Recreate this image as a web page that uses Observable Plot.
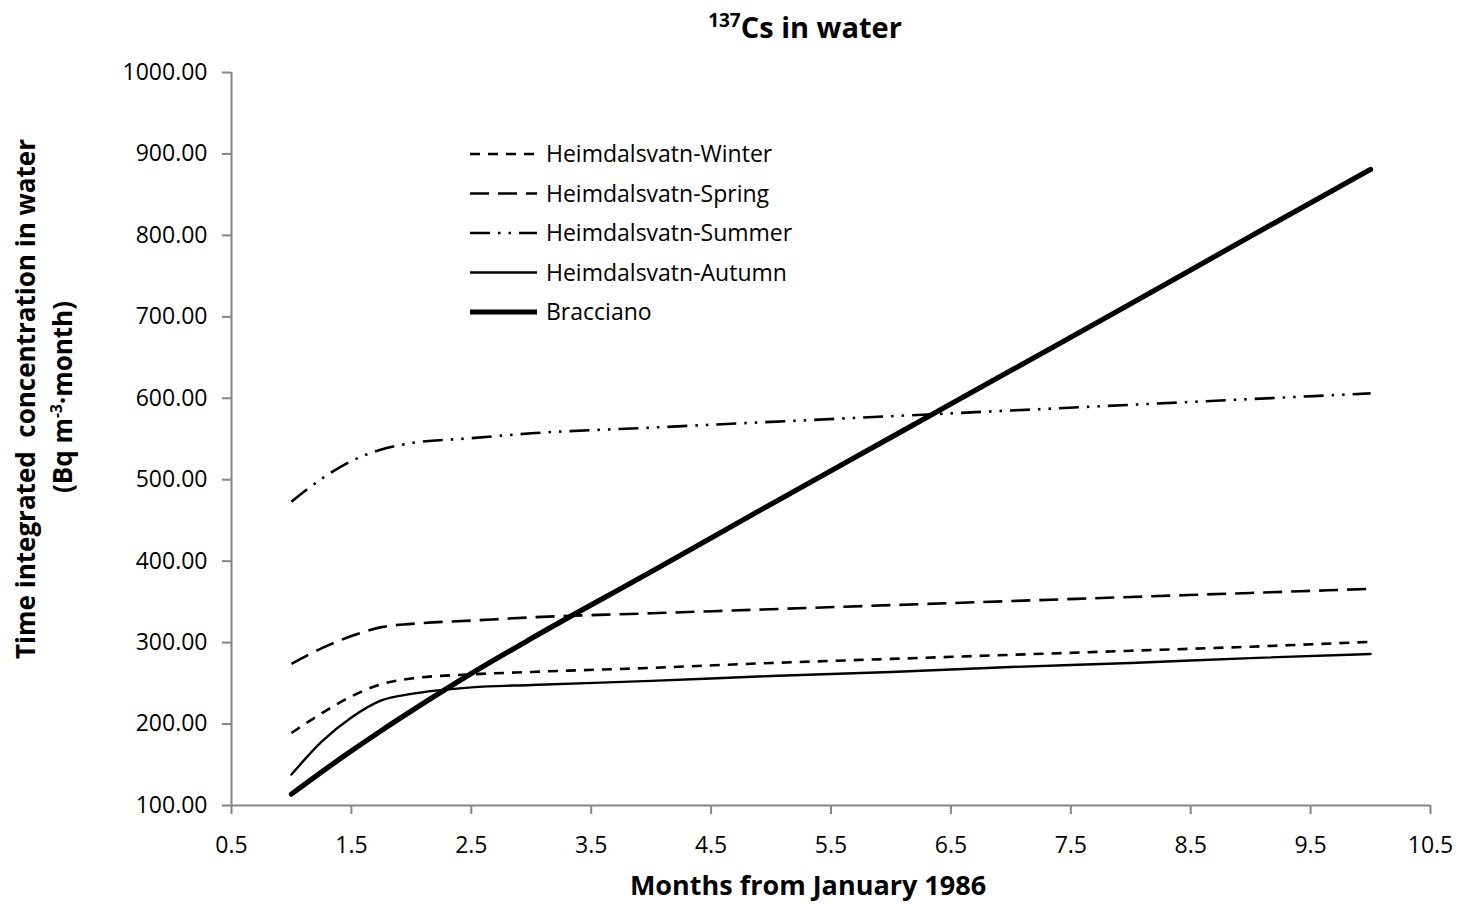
<!DOCTYPE html>
<html>
<head>
<meta charset="utf-8">
<script src="https://cdn.jsdelivr.net/npm/d3@7"></script>
<script src="https://cdn.jsdelivr.net/npm/@observablehq/plot@0.6"></script>
<style>
  body { margin: 0; background: #ffffff; }
  svg { display: block; }
</style>
</head>
<body>
<div id="chart"></div>
<script>
// ---- data ----
const months    = [1, 1.25, 1.5, 1.75, 2, 2.5, 3, 4, 5, 6, 7, 8, 9, 10];
const winter    = [189, 213, 234, 249, 256, 261, 264, 269, 275, 280, 285, 290, 295, 301];
const spring    = [274, 293, 308, 319, 323, 327, 331, 336, 341, 346, 351, 356, 361, 366];
const summer    = [473, 501, 523, 537, 545, 551, 557, 564, 571, 578, 585, 592, 599, 606];
const autumn    = [138, 178, 208, 229, 237, 245, 248, 253, 259, 264, 270, 275, 281, 286];
const bracciano = [114, 141, 167, 192, 216, 262, 305, 387, 470, 552, 634, 716, 799, 881];
const seriesNames = ["Heimdalsvatn-Winter", "Heimdalsvatn-Spring", "Heimdalsvatn-Summer", "Heimdalsvatn-Autumn", "Bracciano"];
const seriesValues = [winter, spring, summer, autumn, bracciano];
const xTicks = [0.5, 1.5, 2.5, 3.5, 4.5, 5.5, 6.5, 7.5, 8.5, 9.5, 10.5];
const yTicks = [100, 200, 300, 400, 500, 600, 700, 800, 900, 1000];
const titleSup = "137";
const titleMain = "Cs in water";
const xTitle = "Months from January 1986";
const yTitle1 = "Time integrated  concentration in water";

// ---- styles (not data) ----
const styles = [
  {strokeWidth: 2.6, dash: "10 8", cap: "butt"},
  {strokeWidth: 2.6, dash: "19 9", cap: "butt"},
  {strokeWidth: 2.6, dash: "20 8 2.5 8 2.5 8", cap: "butt"},
  {strokeWidth: 2.4, dash: null, cap: "round"},
  {strokeWidth: 5.2, dash: null, cap: "round"}
];

const rows = seriesNames.flatMap((s, i) => months.map((m, j) => ({series: s, month: m, value: seriesValues[i][j]})));

const axisColor = "#868686";

const chart = Plot.plot({
  width: 1458,
  height: 906,
  marginTop: 72,
  marginBottom: 101,
  marginLeft: 231,
  marginRight: 28,
  style: {fontFamily: "'Open Sans', sans-serif", fontSize: "23px", color: "#000", background: "#fff"},
  x: {domain: [0.5, 10.5], ticks: xTicks, tickFormat: d3.format(".1f"), tickSize: 9, tickPadding: 22, label: null},
  y: {domain: [100, 1000], ticks: yTicks, tickFormat: d3.format(".2f"), tickSize: 9, tickPadding: 15, label: null},
  marks: [
    Plot.ruleX([0.5], {y1: 100, y2: 1000, stroke: axisColor, strokeWidth: 2}),
    Plot.ruleY([100], {x1: 0.5, x2: 10.5, stroke: axisColor, strokeWidth: 2}),
    ...seriesNames.map((s, i) => Plot.line(rows.filter(d => d.series === s), {
      x: "month", y: "value",
      stroke: "#000",
      strokeWidth: styles[i].strokeWidth,
      strokeDasharray: styles[i].dash,
      strokeLinecap: styles[i].cap,
      curve: "monotone-x"
    }))
  ]
});

document.getElementById("chart").appendChild(chart);
const svg = d3.select(chart);

// grey tick marks
svg.selectAll('g[aria-label$="axis tick"]').attr("stroke", axisColor).attr("stroke-width", 2);
svg.selectAll('.tick line').attr("stroke", axisColor).attr("stroke-width", 2);

// title
const t = svg.append("text")
  .attr("x", 805).attr("y", 38)
  .attr("text-anchor", "middle")
  .attr("font-weight", "bold")
  .attr("font-family", "'Open Sans', sans-serif")
  .attr("fill", "#000");
t.append("tspan").attr("font-size", 19).attr("dy", -11).text(titleSup);
t.append("tspan").attr("font-size", 29).attr("dy", 11).text(titleMain);

// x title
svg.append("text")
  .attr("x", 808).attr("y", 895)
  .attr("text-anchor", "middle")
  .attr("font-weight", "bold")
  .attr("font-size", 27)
  .attr("font-family", "'Open Sans', sans-serif")
  .attr("fill", "#000")
  .text(xTitle);

// y title (two lines)
svg.append("text")
  .attr("transform", "translate(35,399) rotate(-90)")
  .attr("text-anchor", "middle")
  .attr("font-weight", "bold")
  .attr("font-size", 27)
  .attr("font-family", "'Open Sans', sans-serif")
  .attr("textLength", 520)
  .attr("lengthAdjust", "spacingAndGlyphs")
  .attr("fill", "#000")
  .text(yTitle1);
const y2 = svg.append("text")
  .attr("transform", "translate(72,397) rotate(-90)")
  .attr("text-anchor", "middle")
  .attr("font-weight", "bold")
  .attr("font-size", 27)
  .attr("font-family", "'Open Sans', sans-serif")
  .attr("textLength", 192)
  .attr("lengthAdjust", "spacingAndGlyphs")
  .attr("fill", "#000");
y2.append("tspan").text("(Bq m");
y2.append("tspan").attr("font-size", 16).attr("dy", -10).text("-3");
y2.append("tspan").attr("dy", 10).text("\u00B7month)");

// legend
const legendY0 = 154, legendStep = 39.5;
seriesNames.forEach((s, i) => {
  const yy = legendY0 + i * legendStep;
  svg.append("line")
    .attr("x1", 470).attr("x2", 537).attr("y1", yy).attr("y2", yy)
    .attr("stroke", "#000")
    .attr("stroke-width", styles[i].strokeWidth)
    .attr("stroke-dasharray", styles[i].dash)
    .attr("stroke-linecap", "butt");
  svg.append("text")
    .attr("x", 546).attr("y", yy + 8)
    .attr("text-anchor", "start")
    .attr("font-size", 23)
    .attr("font-family", "'Open Sans', sans-serif")
    .attr("fill", "#000")
    .text(s);
});
</script>
</body>
</html>
